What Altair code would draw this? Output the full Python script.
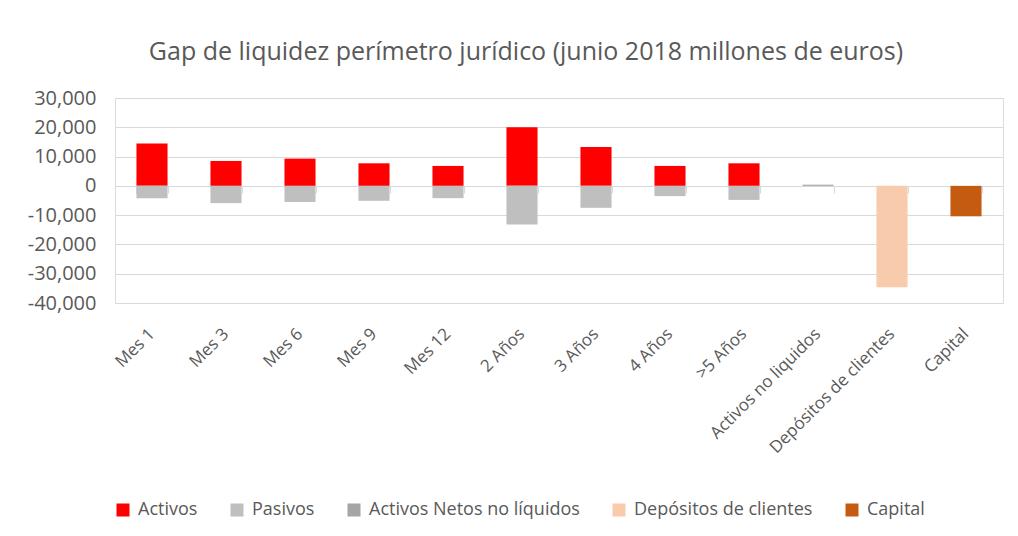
import altair as alt
import pandas as pd

categories = ["Mes 1", "Mes 3", "Mes 6", "Mes 9", "Mes 12", "2 Años", "3 Años",
              "4 Años", ">5 Años", "Activos no liquidos", "Depósitos de clientes", "Capital"]
series = ["Activos", "Pasivos", "Activos Netos no líquidos", "Depósitos de clientes", "Capital"]
colors = ["#FF0000", "#BFBFBF", "#A5A5A5", "#F8CBAD", "#C55A11"]

activos = [14500, 8500, 9300, 7700, 6800, 20000, 13300, 6800, 7700, None, None, None]
pasivos = [-4200, -5900, -5500, -5100, -4200, -13200, -7500, -3500, -4800, None, None, None]
netos = [None, None, None, None, None, None, None, None, None, 400, None, None]
depositos = [None, None, None, None, None, None, None, None, None, None, -34600, None]
capital = [None, None, None, None, None, None, None, None, None, None, None, -10400]

y_ticks = [30000, 20000, 10000, 0, -10000, -20000, -30000, -40000]

rows = []
for s_i, (name, vals) in enumerate(zip(series, [activos, pasivos, netos, depositos, capital])):
    for c, v in zip(categories, vals):
        if v is not None:
            rows.append({"cat": c, "serie": name, "value": v, "ord": s_i})
df = pd.DataFrame(rows)

FONT = "Open Sans"
TXT = "#595959"
GRID = "#D9D9D9"

xscale = alt.Scale(paddingInner=0.58, paddingOuter=0.29)
yscale = alt.Scale(domain=[-40000, 30000], nice=False, zero=False)

yaxis = alt.Axis(values=y_ticks, title=None, domain=False, ticks=False, grid=True,
                 gridColor=GRID, gridWidth=1, labelFontSize=20, labelFont=FONT,
                 labelColor=TXT, labelPadding=19,
                 labelExpr="datum.value < 0 ? '-' + format(-datum.value, ',') : format(datum.value, ',')")
yenc = alt.Y("value:Q", stack="zero", scale=yscale, axis=yaxis)

bars = alt.Chart(df).mark_bar().encode(
    x=alt.X("cat:N", sort=categories, scale=xscale,
            axis=alt.Axis(title=None, orient="bottom", domain=False, ticks=False, grid=False,
                          labelAngle=315, labelAlign="right", labelBaseline="middle",
                          labelFontSize=17, labelFont=FONT, labelColor=TXT,
                          labelPadding=28, labelOverlap=False)),
    y=yenc,
    color=alt.Color("serie:N", scale=alt.Scale(domain=series, range=colors),
                    legend=alt.Legend(title=None, orient="none", direction="horizontal",
                                      legendX=-1, legendY=403, columnPadding=30,
                                      symbolType="square", symbolSize=169,
                                      symbolStrokeWidth=0, labelFontSize=18,
                                      labelFont=FONT, labelColor=TXT, labelOffset=6,
                                      labelLimit=400, padding=0)),
    order=alt.Order("ord:Q"),
)

zero_axis = alt.Chart(df).mark_bar(opacity=0).encode(
    x=alt.X("cat:N", sort=categories, scale=xscale,
            axis=alt.Axis(title=None, orient="bottom", labels=False, domain=True,
                          domainColor=GRID, ticks=True, tickBand="extent", tickSize=7,
                          tickColor=GRID, grid=False, offset=-117)),
    y=yenc,
)

chart = alt.layer(bars, zero_axis).resolve_axis(x="independent").properties(
    width=888, height=205,
    title=alt.TitleParams("Gap de liquidez perímetro jurídico (junio 2018 millones de euros)",
                          font=FONT, fontSize=25, fontWeight="normal", color=TXT,
                          anchor="middle", frame="group", dx=-33, offset=3,
                          baseline="alphabetic"),
    autosize=alt.AutoSizeParams(type="none"),
    padding={"left": 107, "top": 90, "right": 5, "bottom": 220},
).configure_view(strokeWidth=0).configure(background="white")

chart.save("out.html", embed_options={"renderer": "svg", "actions": False})
